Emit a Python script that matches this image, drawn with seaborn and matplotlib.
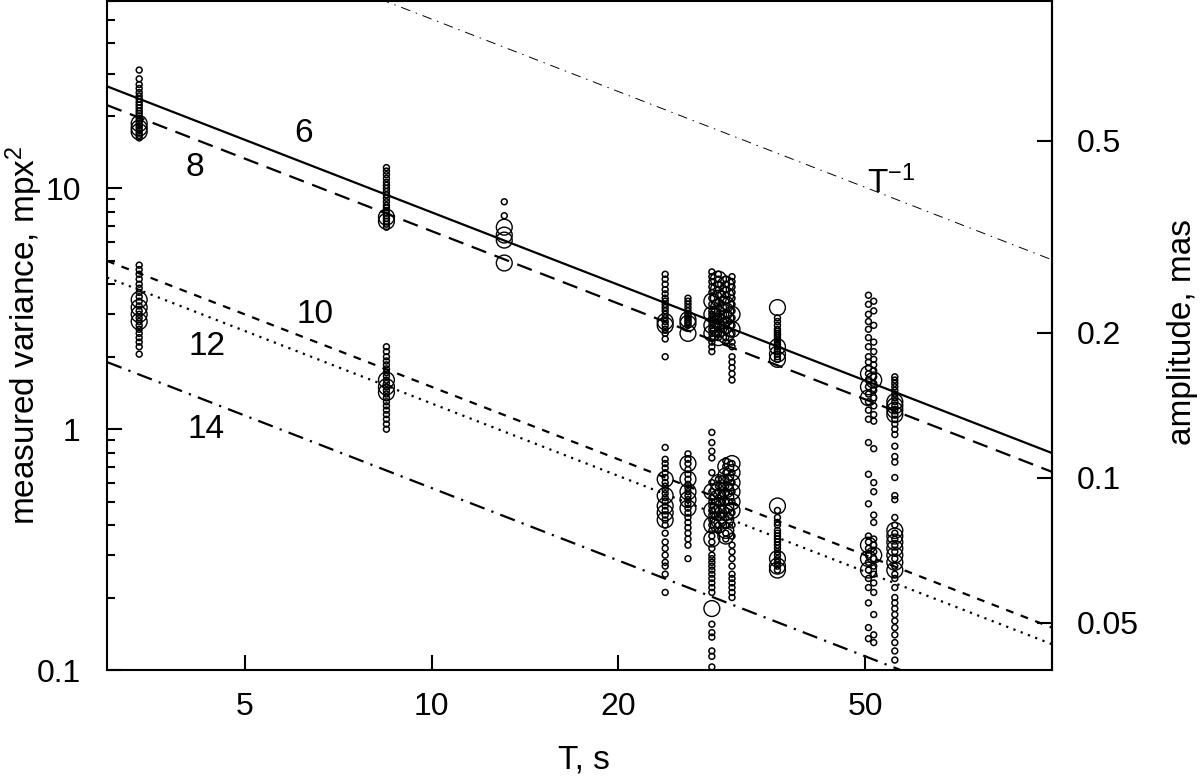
import numpy as np
import pandas as pd
import matplotlib
matplotlib.use("Agg")
import matplotlib.pyplot as plt
from matplotlib.ticker import NullLocator, NullFormatter, LogLocator
import seaborn as sns

sns.set_style("ticks")
plt.rcParams['font.family'] = ['Liberation Sans', 'DejaVu Sans']
plt.rcParams['mathtext.fontset'] = 'custom'
plt.rcParams['mathtext.rm'] = 'Liberation Sans'
plt.rcParams['mathtext.it'] = 'Liberation Sans'
for key in ['text.color', 'axes.labelcolor', 'xtick.color', 'ytick.color', 'axes.edgecolor']:
    plt.rcParams[key] = 'black'

# measured variance (mpx^2) per exposure T (s), small and large circles
t3_small = [31, 28.5, 27, 26, 25, 24.2, 23.5, 22.8, 22.2, 21.6, 21, 20.5, 20, 19.5, 19, 18.6, 18.2,
            17.8, 17.4, 17, 16.6, 16.2,
            4.8, 4.6, 4.4, 4.2, 4.0, 3.85, 3.7, 3.55, 3.4, 3.25, 3.1, 3.0, 2.9, 2.8, 2.7, 2.6, 2.5,
            2.4, 2.3, 2.2, 2.05]
t3_large = [18.6, 17.8, 17.2, 3.45, 3.2, 3.0, 2.8]

t8_small = [12.2, 11.8, 11.4, 11.0, 10.6, 10.3, 10.0, 9.7, 9.4, 9.1, 8.8, 8.5, 8.3, 8.1, 7.9, 7.7,
            7.5, 7.3, 7.1, 6.9,
            2.2, 2.1, 2.0, 1.92, 1.85, 1.78, 1.72, 1.66, 1.6, 1.55, 1.5, 1.45, 1.4, 1.35, 1.3, 1.25,
            1.2, 1.15, 1.1, 1.05, 1.0]
t8_large = [7.6, 7.3, 1.6, 1.5, 1.42]

t13_small = [8.8, 7.7]
t13_large = [6.9, 6.4, 6.1, 4.9]

t24_small = [4.4, 4.2, 4.0, 3.8, 3.65, 3.5, 3.4, 3.3, 3.2, 3.1, 3.0, 2.9, 2.8, 2.7, 2.6, 2.5, 2.37, 2.0,
             0.84, 0.75, 0.72, 0.69, 0.66, 0.63, 0.60, 0.58, 0.56, 0.54, 0.52, 0.50, 0.48, 0.46,
             0.44, 0.42, 0.40, 0.37, 0.34, 0.32, 0.30, 0.28, 0.27, 0.25, 0.21]
t24_large = [2.8, 2.7, 0.62, 0.53, 0.48, 0.45, 0.42]

t26_small = [3.5, 3.4, 3.3, 3.2, 3.1, 3.0, 2.95, 2.9, 2.85, 2.8, 2.75, 2.7,
             0.79, 0.75, 0.72, 0.68, 0.65, 0.62, 0.59, 0.57, 0.55, 0.53, 0.51, 0.49, 0.47, 0.45,
             0.43, 0.41, 0.39, 0.37, 0.35, 0.33, 0.29]
t26_large = [2.85, 2.75, 2.5, 0.72, 0.62, 0.55, 0.51, 0.47]

t28_small = [4.5, 4.3, 4.1, 3.9, 3.7, 3.5, 3.3, 3.1, 3.0, 2.9, 2.8, 2.7, 2.6, 2.5, 2.4, 2.3, 2.2, 2.1,
             0.97, 0.88, 0.81, 0.76, 0.66, 0.60, 0.55, 0.52, 0.50, 0.48, 0.46, 0.44, 0.42, 0.40,
             0.38, 0.36, 0.34, 0.32, 0.30, 0.29, 0.28, 0.27, 0.26, 0.25, 0.24, 0.23, 0.22, 0.21,
             0.155, 0.143, 0.137, 0.12, 0.114, 0.103]
t28_large = [3.4, 3.0, 2.7, 2.5, 0.55, 0.46, 0.40, 0.35, 0.18]

t29_small = [4.4, 4.2, 4.0, 3.8, 3.6, 3.4, 3.2, 3.0, 2.9, 2.8, 2.7, 2.6, 2.5, 2.4,
             0.62, 0.58, 0.55, 0.52, 0.49, 0.46, 0.43, 0.40, 0.38]
t29_large = [4.2, 3.8, 3.5, 3.2, 3.0, 2.8, 2.6, 2.4, 0.60, 0.56, 0.52, 0.48, 0.45, 0.42, 0.40]

t30_small = [4.2, 4.0, 3.8, 3.6, 3.4, 3.2, 3.0, 2.85, 2.7, 2.55, 2.4, 2.3,
             0.74, 0.70, 0.66, 0.62, 0.58, 0.54, 0.50, 0.46, 0.43, 0.40, 0.37, 0.35]
t30_large = [4.0, 3.6, 3.3, 3.1, 2.9, 2.7, 2.45, 0.70, 0.64, 0.60, 0.56, 0.52, 0.48, 0.45,
             0.42, 0.38, 0.36]

t31_small = [4.3, 4.1, 3.9, 3.7, 3.5, 3.3, 3.1, 2.9, 2.7, 2.5, 2.3, 2.2, 2.0, 1.9, 1.8, 1.7, 1.6,
             0.72, 0.66, 0.60, 0.55, 0.50, 0.45, 0.40, 0.36, 0.33, 0.31, 0.29, 0.27, 0.25, 0.24,
             0.23, 0.22, 0.21, 0.2]
t31_large = [3.0, 2.6, 0.72, 0.66, 0.60, 0.55, 0.50, 0.46]

t36_small = [2.9, 2.8, 2.7, 2.6, 2.55, 2.5, 2.45, 2.4, 2.35, 2.3, 2.25, 2.2, 2.15, 2.1, 2.05, 2.0, 1.95,
             0.46, 0.43, 0.41, 0.40, 0.38, 0.37, 0.36, 0.35, 0.34, 0.33, 0.32, 0.31, 0.30, 0.29,
             0.28, 0.27, 0.26]
t36_large = [3.2, 2.2, 2.05, 1.95, 0.48, 0.29, 0.27, 0.26]

t50_small = [3.6, 3.3, 3.0, 2.8, 2.6, 2.4, 2.2, 2.0, 1.9, 1.8, 1.7, 1.6, 1.5, 1.4, 1.3, 1.2, 1.1,
             0.88, 0.65, 0.49, 0.36, 0.34, 0.32, 0.30, 0.28, 0.26, 0.24, 0.22, 0.19, 0.15, 0.135]
t50_large = [1.7, 1.5, 1.35, 0.33, 0.29, 0.26]

t52_small = [3.4, 3.1, 2.7, 2.3, 2.1, 1.95, 1.85, 1.75, 1.65, 1.55, 1.45, 1.35, 1.25, 1.15, 1.08,
             0.83, 0.6, 0.55, 0.44, 0.41, 0.35, 0.33, 0.31, 0.29, 0.27, 0.25, 0.23, 0.21, 0.17,
             0.14, 0.13]
t52_large = [1.6, 0.3]

t56_small = [1.65, 1.6, 1.55, 1.5, 1.45, 1.4, 1.35, 1.3, 1.25, 1.2, 1.15, 1.1, 1.05, 1.0, 0.95,
             0.85, 0.77, 0.73, 0.63, 0.53, 0.51, 0.43,
             0.40, 0.37, 0.35, 0.33, 0.31, 0.29, 0.27, 0.25, 0.24, 0.22, 0.20, 0.19, 0.18, 0.17,
             0.16, 0.15, 0.14, 0.13, 0.12, 0.11]
t56_large = [1.3, 1.25, 1.2, 1.15, 0.38, 0.36, 0.34, 0.32, 0.30, 0.28, 0.26]

exposures = [3.38, 8.46, 13.1, 23.8, 25.9, 28.3, 29.0, 29.8, 30.5, 36.1, 50.6, 51.6, 55.8]
small_sets = [t3_small, t8_small, t13_small, t24_small, t26_small, t28_small, t29_small,
              t30_small, t31_small, t36_small, t50_small, t52_small, t56_small]
large_sets = [t3_large, t8_large, t13_large, t24_large, t26_large, t28_large, t29_large,
              t30_large, t31_large, t36_large, t50_large, t52_large, t56_large]

# model lines: variance = coef / T
model_labels = ['6', '8', '10', '12', '14']
model_coef = [79.6, 66.5, 15.0, 12.8, 5.7]
ref_coef = 505.0          # T^-1 reference line
amp_scale = 0.126         # mas per mpx

rows = []
for T, sm, lg in zip(exposures, small_sets, large_sets):
    rows += [(T, v, 'small') for v in sm]
    rows += [(T, v, 'large') for v in lg]
df = pd.DataFrame(rows, columns=['T', 'var', 'kind'])

fig = plt.figure(figsize=(12, 7.79), dpi=100)
ax = fig.add_axes([0.0892, 0.1399, 0.7875, 0.8588])
ax.set_xscale('log')
ax.set_yscale('log')

T_line = np.array([3.0, 100.0])
styles = ['-', (0, (7, 4)), (0, (3.5, 3.5)), (0, (1, 2.5)), (0, (7, 3.3, 1, 3.3))]
for c, ls in zip(model_coef, styles):
    sns.lineplot(x=T_line, y=c / T_line, ax=ax, color='k', linewidth=1.6, linestyle=ls)
sns.lineplot(x=T_line, y=ref_coef / T_line, ax=ax, color='k', linewidth=0.7,
             linestyle=(0, (10, 6, 1.5, 6)))

sns.scatterplot(data=df[df['kind'] == 'small'], x='T', y='var', ax=ax, s=18, marker='o',
                facecolor='none', edgecolor='k', linewidth=1.1, legend=False)
sns.scatterplot(data=df[df['kind'] == 'large'], x='T', y='var', ax=ax, s=130, marker='o',
                facecolor='none', edgecolor='k', linewidth=1.0, legend=False)

ax.set_xlim(3, 100)
ax.set_ylim(0.1, 60)

ax.set_xticks([5, 10, 20, 50])
ax.set_xticklabels(['5', '10', '20', '50'])
ax.xaxis.set_minor_locator(NullLocator())
ax.set_yticks([0.1, 1, 10])
ax.set_yticklabels(['0.1', '1', '10'])
ax.yaxis.set_minor_locator(LogLocator(base=10, subs=np.arange(2, 10)))
ax.yaxis.set_minor_formatter(NullFormatter())
ax.tick_params(which='both', direction='in', top=False, right=False, width=1.5, labelsize=23)
ax.tick_params(which='major', length=11)
ax.tick_params(which='minor', length=6)
ax.tick_params(axis='x', pad=16)
ax.tick_params(axis='y', pad=19)
for sp in ax.spines.values():
    sp.set_linewidth(1.5)

sec = ax.secondary_yaxis('right', functions=(lambda v: amp_scale * np.sqrt(np.maximum(v, 1e-12)),
                                             lambda a: (a / amp_scale) ** 2))
sec.set_yticks([0.05, 0.1, 0.2, 0.5])
sec.set_yticklabels(['0.05', '0.1', '0.2', '0.5'])
sec.yaxis.set_minor_locator(NullLocator())
sec.tick_params(direction='in', length=11, width=1.5, labelsize=23, pad=18)
sec.spines['right'].set_linewidth(1.5)

ax.set_xlabel('T, s', fontsize=24)
ax.xaxis.label.set_va('center')
ax.xaxis.set_label_coords(0.505, -0.134)
ax.set_ylabel('measured variance, mpx$^2$', fontsize=24)
ax.yaxis.label.set_va('center')
ax.yaxis.set_label_coords(-0.088, 0.5)
sec.set_ylabel('amplitude, mas', fontsize=24)
sec.yaxis.label.set_va('center')
sec.yaxis.set_label_coords(1.1376, 0.505, transform=ax.transAxes)

ax.text(6.22, 16.9, '6', fontsize=24, ha='center', va='center')
ax.text(4.15, 12.2, '8', fontsize=24, ha='center', va='center')
ax.text(6.5, 3.0, '10', fontsize=24, ha='center', va='center')
ax.text(4.34, 2.21, '12', fontsize=24, ha='center', va='center')
ax.text(4.34, 1.0, '14', fontsize=24, ha='center', va='center')
ax.text(50.3, 9.58, 'T$^{-1}$', fontsize=24, ha='left', va='baseline')

plt.savefig("out.png", dpi=100)
